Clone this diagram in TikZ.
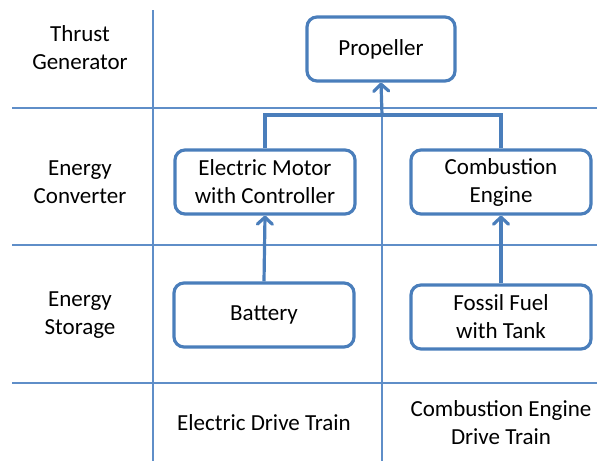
\documentclass[tikz,border=0pt]{standalone}
\usepackage{fontspec}
\setmainfont{Carlito}
\usetikzlibrary{positioning,arrows.meta}

\definecolor{boxblue}{RGB}{74,126,187}
\definecolor{gridblue}{RGB}{95,142,200}

\begin{document}
\begin{tikzpicture}[
  x=1pt, y=-1pt,
  font=\fontsize{23}{28}\selectfont,
  box/.style={draw=boxblue, line width=3.2pt, rounded corners=10pt,
              align=center, inner sep=2pt, minimum width=180pt,
              minimum height=64pt},
  lbl/.style={align=center, inner sep=0pt},
  grid/.style={draw=gridblue, line width=1.2pt},
  >={Straight Barb[length=7pt, width=15pt, line cap=round, line join=round]},
  ln/.style={->, draw=boxblue, line width=3.2pt},
  bar/.style={draw=boxblue, line width=3.2pt},
]
\useasboundingbox (0,0) rectangle (597,461);

% grid
\draw[grid] (153,10) -- (153,461);
\draw[grid] (382,108) -- (382,461);
\draw[grid] (12,108) -- (597,108);
\draw[grid] (12,245) -- (597,245);
\draw[grid] (12,383) -- (597,383);

% row and column labels
\node[lbl] (thrust) at (80,48) {Thrust\\Generator};
\node[lbl] (conv) at (80,182) {Energy\\Converter};
\node[lbl] (stor) at (80,315) {Energy\\Storage};
\node[lbl] (edt) at (264,423) {Electric Drive Train};
\node[lbl] (cdt) at (501,423) {Combustion Engine\\Drive Train};

% components
\node[box, minimum width=148pt] (prop) at (381,49) {Propeller};
\node[box] (motor) at (265,182) {Electric Motor\\with Controller};
\node[box] (eng) at (501,182) {Combustion\\Engine};
\node[box] (bat) at (264,315) {Battery};
\node[box] (fuel) at (501,317) {Fossil Fuel\\with Tank};

\coordinate (bus) at (382,115);

\draw[bar] (motor.north) |- (bus) -| (eng.north);
\draw[ln] (bus) -- (prop.south);
\draw[ln] (bat.north) -- (motor.south);
\draw[ln] (fuel.north) -- (eng.south);

\end{tikzpicture}
\end{document}
